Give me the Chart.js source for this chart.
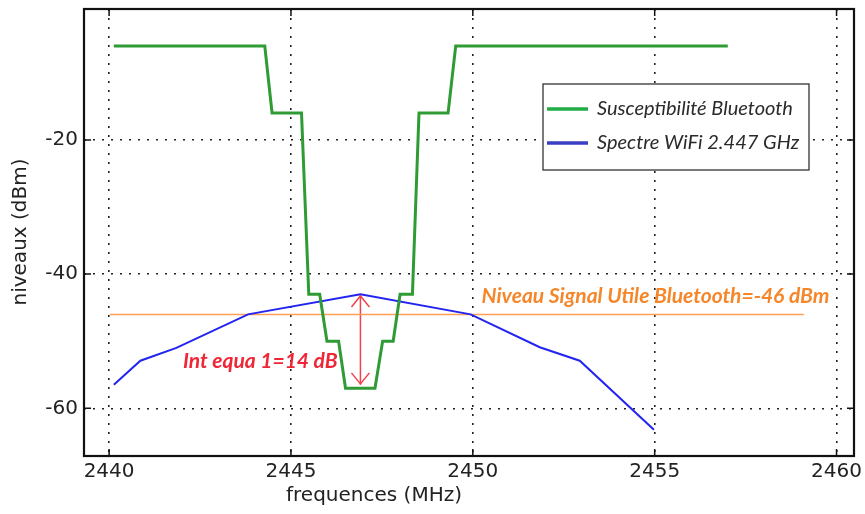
<!DOCTYPE html>
<html>
<head>
<meta charset="utf-8">
<script src="https://cdn.jsdelivr.net/npm/chart.js@4"></script>
<style>
  body { margin: 0; background: #fff; }
</style>
</head>
<body>
<canvas id="chart" width="865" height="514"></canvas>
<script>
// values
const greenFreq = [2440.13, 2444.28, 2444.48, 2445.29, 2445.49, 2445.79, 2445.99, 2446.31, 2446.5, 2447.31, 2447.52, 2447.81, 2448.0, 2448.34, 2448.52, 2449.32, 2449.53, 2457.01]
const greenLevel = [-6, -6, -16, -16, -43, -43, -50, -50, -57, -57, -50, -50, -43, -43, -16, -16, -6, -6]

const blueFreq = [2440.13, 2440.86, 2441.85, 2443.82, 2446.91, 2449.94, 2451.84, 2452.94, 2454.98]
const blueLevel = [-56.5, -52.9, -51.0, -46.0, -43.0, -46.0, -50.9, -52.9, -63.2]

const usefulFreq = [2440.02, 2459.1]
const usefulLevel = [-46, -46]

const arrowFreq = [2446.91, 2446.91]
const arrowLevel = [-43.1, -56.5]

const xTicks = [2440, 2445, 2450, 2455, 2460]
const yTicks = [-20, -40, -60]

const seriesNames = ['Susceptibilité Bluetooth', 'Spectre WiFi 2.447 GHz']
const usefulLabel = 'Niveau Signal Utile Bluetooth=-46 dBm'
const interfLabel = 'Int equa 1=14 dB'

const zip = (xs, ys) => xs.map((x, i) => ({x, y: ys[i]}))

const tickFont = {family: 'DejaVu Sans', size: 20}

const extras = {
    id: 'extras',
    afterDatasetsDraw(chart) {
        const {ctx, chartArea: a, scales: {x, y}} = chart
        ctx.save()

        // red double arrow heads
        const ax = x.getPixelForValue(arrowFreq[0])
        const ay1 = y.getPixelForValue(arrowLevel[0])
        const ay2 = y.getPixelForValue(arrowLevel[1])
        ctx.strokeStyle = '#f2404f'
        ctx.lineWidth = 1.5
        ctx.beginPath()
        ctx.moveTo(ax - 9, ay1 + 12); ctx.lineTo(ax, ay1 + 1); ctx.lineTo(ax + 9, ay1 + 12)
        ctx.moveTo(ax - 9, ay2 - 12); ctx.lineTo(ax, ay2 - 1); ctx.lineTo(ax + 9, ay2 - 12)
        ctx.stroke()

        // annotations
        ctx.font = 'italic bold 21px Lato'
        ctx.textBaseline = 'middle'
        ctx.textAlign = 'left'
        ctx.fillStyle = '#f5872a'
        ctx.fillText(usefulLabel, x.getPixelForValue(2450.24), y.getPixelForValue(-43.25))
        ctx.fillStyle = '#ee2636'
        ctx.fillText(interfLabel, x.getPixelForValue(2442.03), y.getPixelForValue(-53.0))

        // inward tick marks
        ctx.strokeStyle = '#111'
        ctx.lineWidth = 1.5
        ctx.beginPath()
        xTicks.forEach(v => {
            const px = x.getPixelForValue(v)
            ctx.moveTo(px, a.bottom); ctx.lineTo(px, a.bottom - 7)
            ctx.moveTo(px, a.top); ctx.lineTo(px, a.top + 7)
        })
        yTicks.forEach(v => {
            const py = y.getPixelForValue(v)
            ctx.moveTo(a.left, py); ctx.lineTo(a.left + 7, py)
            ctx.moveTo(a.right, py); ctx.lineTo(a.right - 7, py)
        })
        ctx.stroke()

        // frame
        ctx.lineWidth = 2.2
        ctx.strokeRect(a.left, a.top, a.right - a.left, a.bottom - a.top)

        // legend box
        ctx.fillStyle = '#fff'
        ctx.fillRect(543, 84, 266, 86)
        ctx.strokeStyle = '#333'
        ctx.lineWidth = 1.3
        ctx.strokeRect(543, 84, 266, 86)
        const legendColors = ['#22ad48', '#3a3fc4']
        const rows = [109, 143]
        ctx.font = 'italic 20px Lato'
        rows.forEach((ry, i) => {
            ctx.strokeStyle = legendColors[i]
            ctx.lineWidth = 3.5
            ctx.beginPath()
            ctx.moveTo(547, ry); ctx.lineTo(588, ry)
            ctx.stroke()
            ctx.fillStyle = '#2a2a2a'
            ctx.fillText(seriesNames[i], 597, ry)
        })

        // axis titles
        ctx.fillStyle = '#222'
        ctx.font = '20px "DejaVu Sans"'
        ctx.textAlign = 'center'
        ctx.fillText('frequences (MHz)', 374, 496)
        ctx.translate(21, 232)
        ctx.rotate(-Math.PI / 2)
        ctx.fillText('niveaux (dBm)', 0, 0)

        ctx.restore()
    }
}

const dotted = {display: false, dash: [2, 7]}

new Chart('chart', {
    type: 'line',
    data: {
        datasets: [
            {label: seriesNames[0], data: zip(greenFreq, greenLevel), borderColor: '#2f9b35', borderWidth: 3},
            {label: seriesNames[1], data: zip(blueFreq, blueLevel), borderColor: '#2424f0', borderWidth: 2},
            {label: 'useful', data: zip(usefulFreq, usefulLevel), borderColor: '#ff9f55', borderWidth: 1.5},
            {label: 'arrow', data: zip(arrowFreq, arrowLevel), borderColor: '#f2404f', borderWidth: 1.5}
        ]
    },
    options: {
        responsive: false,
        animation: false,
        events: [],
        elements: {point: {radius: 0}, line: {tension: 0}},
        layout: {padding: {top: 9, right: 11, left: 0, bottom: 0}},
        plugins: {legend: {display: false}, tooltip: {enabled: false}},
        scales: {
            x: {
                type: 'linear',
                min: 2439.31,
                max: 2460.48,
                afterBuildTicks: axis => { axis.ticks = xTicks.map(v => ({value: v})) },
                afterFit: axis => { axis.height = 58; axis.paddingLeft = 0; axis.paddingRight = 0 },
                border: dotted,
                grid: {color: '#222', lineWidth: 1.6, drawTicks: false},
                ticks: {font: tickFont, color: '#222', padding: 4, maxRotation: 0, callback: v => String(v)}
            },
            y: {
                min: -67.1,
                max: -0.5,
                afterBuildTicks: axis => { axis.ticks = yTicks.map(v => ({value: v})) },
                afterFit: axis => { axis.width = 84; axis.paddingTop = 0; axis.paddingBottom = 0 },
                border: dotted,
                grid: {color: '#222', lineWidth: 1.6, drawTicks: false},
                ticks: {font: tickFont, color: '#222', padding: 6, callback: v => String(v)}
            }
        }
    },
    plugins: [extras]
})
</script>
</body>
</html>
